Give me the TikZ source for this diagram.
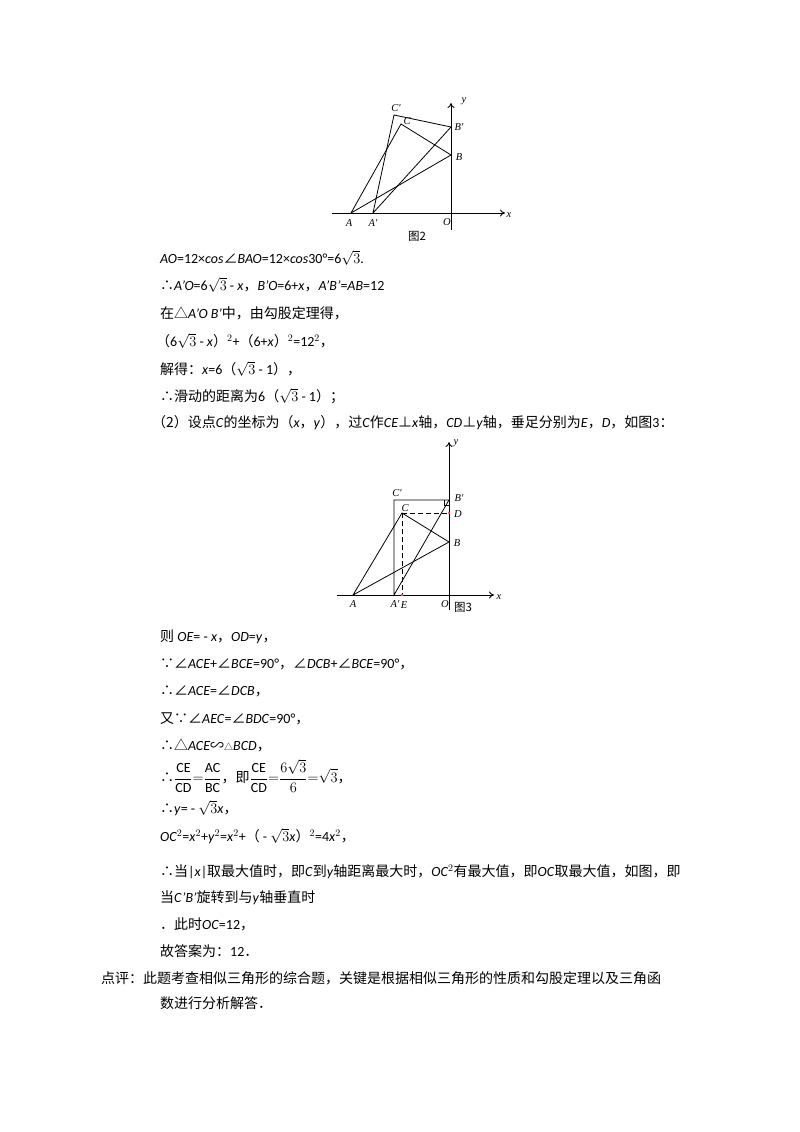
\documentclass[tikz,border=0pt]{standalone}
\usetikzlibrary{arrows.meta}
\usepackage{fontspec}
\setmainfont{Carlito}
\newfontfamily\cjk{Noto Sans CJK SC}
\newfontfamily\figf{Liberation Serif}
\newcommand\zh[1]{{\cjk #1}}
\begin{document}
\begin{tikzpicture}[x=1pt,y=-1pt,
  ln/.style={line width=0.8pt},
  tx/.style={anchor=west,inner sep=0pt,font=\fontsize{14}{16}\selectfont},
  lb/.style={inner sep=0pt,font=\figf\itshape\fontsize{10.5}{12}\selectfont},
  ax/.style={line width=0.9pt,-{To[length=5pt,width=7pt]}}]
\useasboundingbox (0,0) rectangle (800,1132);
% ---------- figure 2
\coordinate (xs1) at (332,213); \coordinate (xe1) at (505,213);
\coordinate (ys1) at (451,230); \coordinate (ye1) at (451,103);
\coordinate (A) at (351,213); \coordinate (Ap) at (373,213);
\coordinate (O) at (451,213); \coordinate (B) at (451,155);
\coordinate (Bp) at (451,127); \coordinate (Cp) at (394,115);
\coordinate (C) at (401,124);
\draw[ax] (xs1)--(xe1); \draw[ax] (ys1)--(ye1);
\draw[ln] (A)--(C)--(B)--cycle;
\draw[ln] (Ap)--(Cp)--(Bp)--cycle;
\node[lb] (lCp) at (396,108) {C'};
\node[lb] (lC) at (407,121) {C};
\node[lb] (lBp) at (459,127) {B'};
\node[lb] (lB) at (459,157) {B};
\node[lb] (lA) at (349,223) {A};
\node[lb] (lAp) at (373,223) {A'};
\node[lb] (lO) at (447,222) {O};
\node[lb] (lx) at (509,215) {x};
\node[lb] (ly) at (464,101) {y};
\node[inner sep=0pt,font=\cjk\fontsize{11.5}{13}\selectfont] (cap2) at (417,236) {图2};
% ---------- figure 3
\coordinate (xs2) at (337,595); \coordinate (xe2) at (494,595);
\coordinate (ys2) at (449,610); \coordinate (ye2) at (449,442);
\coordinate (A2) at (353,595); \coordinate (Ap2) at (394,595);
\coordinate (E2) at (402,595); \coordinate (O2) at (449,595);
\coordinate (Cp2) at (394,500); \coordinate (Bp2) at (449,500);
\coordinate (C2) at (402,513); \coordinate (D2) at (449,513);
\coordinate (B2) at (449,542);
\draw[ax] (xs2)--(xe2); \draw[ax] (ys2)--(ye2);
\draw[ln] (A2)--(C2)--(B2)--cycle;
\draw[ln] (Ap2)--(Cp2)--(Bp2)--cycle;
\draw[ln,dash pattern=on 5pt off 3pt] (C2)--(D2);
\draw[ln,dash pattern=on 5pt off 3pt] (C2)--(E2);
\draw[line width=0.6pt] (444,500)--(444,505)--(449,505);
\fill[red!70] (D2) circle (1.3); \fill[red!70] (E2) circle (1.3);
\node[lb] (lCp2) at (397,493) {C'};
\node[lb] (lC2) at (405,508) {C};
\node[lb] (lBp2) at (459,498) {B'};
\node[lb] (lD2) at (458,514) {D};
\node[lb] (lB2) at (457,543) {B};
\node[lb] (lA2) at (353,604) {A};
\node[lb] (lAp2) at (395,604) {A'};
\node[lb] (lE2) at (404,605) {E};
\node[lb] (lO2) at (445,604) {O};
\node[lb] (lx2) at (499,597) {x};
\node[lb] (ly2) at (456,443) {y};
\node[inner sep=0pt,font=\cjk\fontsize{11.5}{13}\selectfont] (cap3) at (463,607) {图3};
% ---------- text
\node[tx] (t1) at (160,258) {\textit{AO}=12×\textit{cos}\zh{∠}\textit{BAO}=12×\textit{cos}30°=6$\sqrt{3}$.};
\node[tx] (t2) at (160,285) {\zh{∴}\textit{A'O}=6$\sqrt{3}$ - \textit{x}\zh{，}\textit{B'O}=6+\textit{x}\zh{，}\textit{A'B'}=\textit{AB}=12};
\node[tx] (t3) at (160,313) {\zh{在△}\textit{A'O B'}\zh{中，由勾股定理得，}};
\node[tx] (t4) at (156,341) {\zh{（}6$\sqrt{3}$ - \textit{x}\zh{）}$^{2}$+\zh{（}6+\textit{x}\zh{）}$^{2}$=12$^{2}$\zh{，}};
\node[tx] (t5) at (160,369) {\zh{解得：}\textit{x}=6\zh{（}$\sqrt{3}$ - 1\zh{），}};
\node[tx] (t6) at (160,396) {\zh{∴滑动的距离为}6\zh{（}$\sqrt{3}$ - 1\zh{）；}};
\node[tx] (t7) at (152,423) {\zh{（2）设点}\textit{C}\zh{的坐标为（}\textit{x}\zh{，}\textit{y}\zh{），过}\textit{C}\zh{作}\textit{CE}\zh{⊥}\textit{x}\zh{轴，}\textit{CD}\zh{⊥}\textit{y}\zh{轴，垂足分别为}\textit{E}\zh{，}\textit{D}\zh{，如图}3\zh{：}};
\node[tx] (t8) at (160,637) {\zh{则} \textit{OE}= - \textit{x}\zh{，}\textit{OD}=\textit{y}\zh{，}};
\node[tx] (t9) at (160,664) {\zh{∵∠}\textit{ACE}+\zh{∠}\textit{BCE}=90°\zh{，∠}\textit{DCB}+\zh{∠}\textit{BCE}=90°\zh{，}};
\node[tx] (t10) at (160,691) {\zh{∴∠}\textit{ACE}=\zh{∠}\textit{DCB}\zh{，}};
\node[tx] (t11) at (160,719) {\zh{又∵∠}\textit{AEC}=\zh{∠}\textit{BDC}=90°\zh{，}};
\node[tx] (t12) at (160,745) {\zh{∴△}\textit{ACE}\zh{∽}{\fontsize{9}{10}\selectfont\zh{△}}\textit{BCD}\zh{，}};
\node[tx] (t13) at (160,776) {\zh{∴}$\displaystyle\frac{\mathrm{CE}}{\mathrm{CD}}{=}\frac{\mathrm{AC}}{\mathrm{BC}}$\zh{，即}$\displaystyle\frac{\mathrm{CE}}{\mathrm{CD}}{=}\frac{6\sqrt{3}}{6}{=}\sqrt{3}$\zh{，}};
\node[tx] (t14) at (160,808) {\zh{∴}\textit{y}= - $\sqrt{3}$\textit{x}\zh{，}};
\node[tx] (t15) at (160,836) {\textit{OC}$^{2}$=\textit{x}$^{2}$+\textit{y}$^{2}$=\textit{x}$^{2}$+\zh{（} - $\sqrt{3}$\textit{x}\zh{）}$^{2}$=4\textit{x}$^{2}$\zh{，}};
\node[tx] (t16) at (160,872) {\zh{∴当}|\textit{x}|\zh{取最大值时，即}\textit{C}\zh{到}\textit{y}\zh{轴距离最大时，}\textit{OC}$^{2}$\zh{有最大值，即}\textit{OC}\zh{取最大值，如图，即}};
\node[tx] (t17) at (160,898) {\zh{当}\textit{C'B'}\zh{旋转到与}\textit{y}\zh{轴垂直时}};
\node[tx] (t18) at (160,924) {\zh{．此时}\textit{OC}=12\zh{，}};
\node[tx] (t19) at (160,951) {\zh{故答案为：}12\zh{．}};
\node[tx] (t20) at (101,978) {\zh{点评：此题考查相似三角形的综合题，关键是根据相似三角形的性质和勾股定理以及三角函}};
\node[tx] (t21) at (160,1003) {\zh{数进行分析解答．}};
\end{tikzpicture}
\end{document}
